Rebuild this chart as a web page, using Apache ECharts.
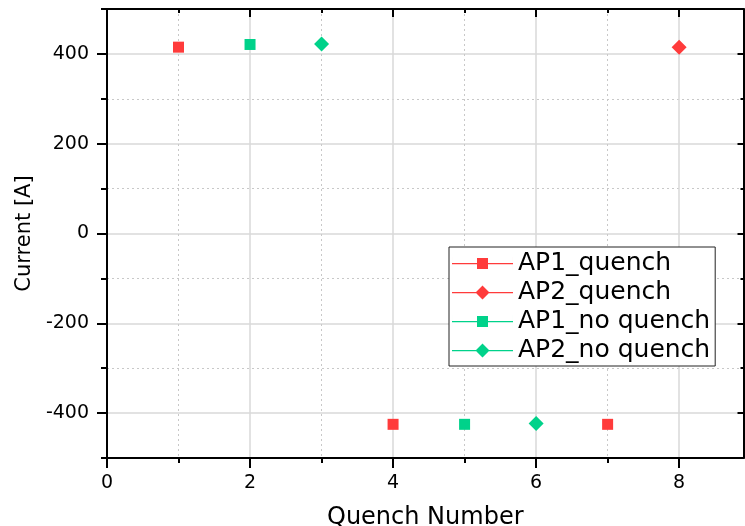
<!DOCTYPE html>
<html><head><meta charset="utf-8">
<script src="https://cdn.jsdelivr.net/npm/echarts@6/dist/echarts.min.js"></script>
<style>html,body{margin:0;padding:0;background:#fff}#c{width:745px;height:526px}</style>
</head><body><div id="c"></div>
<script>
// ---- data ----
const seriesNames = ['AP1_quench', 'AP2_quench', 'AP1_no quench', 'AP2_no quench'];
const ap1QuenchX = [1, 4, 7];
const ap1QuenchY = [415, -425, -425];
const ap2QuenchX = [8];
const ap2QuenchY = [415];
const ap1NoQuenchX = [2, 5];
const ap1NoQuenchY = [421, -425];
const ap2NoQuenchX = [3, 6];
const ap2NoQuenchY = [422, -423];
const xMajorTicks = [0, 2, 4, 6, 8];
const xMinorTicks = [1, 3, 5, 7];
const yMajorTicks = [-400, -200, 0, 200, 400];
const yMinorTicks = [-500, -300, -100, 100, 300, 500];
const xTitle = 'Quench Number';
const yTitle = 'Current [A]';

// ---- styles ----
const RED = '#ff3b3b', GREEN = '#00d28a';
const FONT = 'DejaVu Sans';
const X_MIN = 0, X_MAX = 8.9, Y_MIN = -500, Y_MAX = 500;

function axis(kind, position, ticks, o) {
  const a = {
    type: 'value', position: position,
    min: kind === 'x' ? X_MIN : Y_MIN,
    max: kind === 'x' ? X_MAX : Y_MAX,
    axisLine: { show: !!o.line, onZero: false, lineStyle: { color: '#000', width: 2 } },
    axisTick: { show: true, inside: !!o.inside, length: o.tickLen, customValues: ticks,
                lineStyle: { color: '#000', width: 2 } },
    axisLabel: o.labels ? { show: true, customValues: ticks, margin: o.margin, color: '#000',
                fontFamily: FONT, fontSize: 19 } : { show: false },
    splitLine: o.split ? { show: true, lineStyle: o.split } : { show: false }
  };
  if (o.name) {
    a.name = o.name; a.nameLocation = 'middle'; a.nameGap = o.nameGap;
    a.nameTextStyle = { fontFamily: FONT, fontSize: o.nameSize, color: '#000' };
  }
  return a;
}

const majorSplit = { color: '#d9d9d9', width: 1.5, type: 'solid' };
const minorSplit = { color: '#c8c8c8', width: 1, type: [2, 3] };

const xAxes = [
  axis('x', 'bottom', xMajorTicks, { line: true, tickLen: 10, labels: true, margin: 16, split: majorSplit, name: xTitle, nameGap: 48, nameSize: 24 }),
  axis('x', 'bottom', xMinorTicks, { tickLen: 5, split: minorSplit }),
  axis('x', 'top', xMajorTicks, { line: true, inside: true, tickLen: 8 }),
  axis('x', 'top', xMinorTicks, { inside: true, tickLen: 4 })
];
const yAxes = [
  axis('y', 'left', yMajorTicks, { line: true, tickLen: 10, labels: true, margin: 18, split: majorSplit, name: yTitle, nameGap: 67, nameSize: 21 }),
  axis('y', 'left', yMinorTicks, { tickLen: 6, split: minorSplit }),
  axis('y', 'right', yMajorTicks, { line: true, inside: true, tickLen: 6 }),
  axis('y', 'right', yMinorTicks, { inside: true, tickLen: 3 })
];

function pts(xs, ys) { return xs.map((x, i) => [x, ys[i]]); }
function ser(name, xs, ys, color, symbol, size) {
  return {
    name: name, type: 'line', xAxisIndex: 0, yAxisIndex: 0,
    data: pts(xs, ys), symbol: symbol, symbolSize: size, showSymbol: true,
    itemStyle: { color: color, opacity: 1, borderWidth: 0 },
    lineStyle: { color: color, width: 1, opacity: 0 },
    z: 5
  };
}
const seriesColors = [RED, RED, GREEN, GREEN];
// legend icons: thin line with the series marker (61 x 15 box)
const ICON_RECT = 'path://M0,0.5H0.01V14.5H0Z M0,7H61V8.2H0Z M25,2H36V13H25Z M60.99,0.5H61V14.5H60.99Z';
const ICON_DIAMOND = 'path://M0,7H61V8.2H0Z M30.5,0.5L37.5,7.5L30.5,14.5L23.5,7.5Z';
const seriesIcons = [ICON_RECT, ICON_DIAMOND, ICON_RECT, ICON_DIAMOND];

const chart = echarts.init(document.getElementById('c'), null, { renderer: 'canvas' });
chart.setOption({
  animation: false,
  backgroundColor: '#fff',
  grid: { left: 107, top: 9, right: 1.5, bottom: 68, containLabel: false, outerBoundsMode: 'none' },
  xAxis: xAxes,
  yAxis: yAxes,
  legend: {
    orient: 'vertical', left: 449, top: 247,
    data: seriesNames.map((n, i) => ({
      name: n, icon: seriesIcons[i],
      itemStyle: { color: seriesColors[i], borderWidth: 0, opacity: 1 }
    })),
    itemWidth: 61, itemHeight: 15, itemGap: 4,
    padding: [4, 5, 3, 3],
    borderColor: '#222', borderWidth: 1, backgroundColor: '#fff',
    textStyle: { fontFamily: FONT, fontSize: 25, color: '#000' },
    selectedMode: false
  },
  series: [
    ser(seriesNames[0], ap1QuenchX, ap1QuenchY, RED, 'rect', 11),
    ser(seriesNames[1], ap2QuenchX, ap2QuenchY, RED, 'diamond', 15),
    ser(seriesNames[2], ap1NoQuenchX, ap1NoQuenchY, GREEN, 'rect', 11),
    ser(seriesNames[3], ap2NoQuenchX, ap2NoQuenchY, GREEN, 'diamond', 15)
  ]
});
</script>
</body></html>
